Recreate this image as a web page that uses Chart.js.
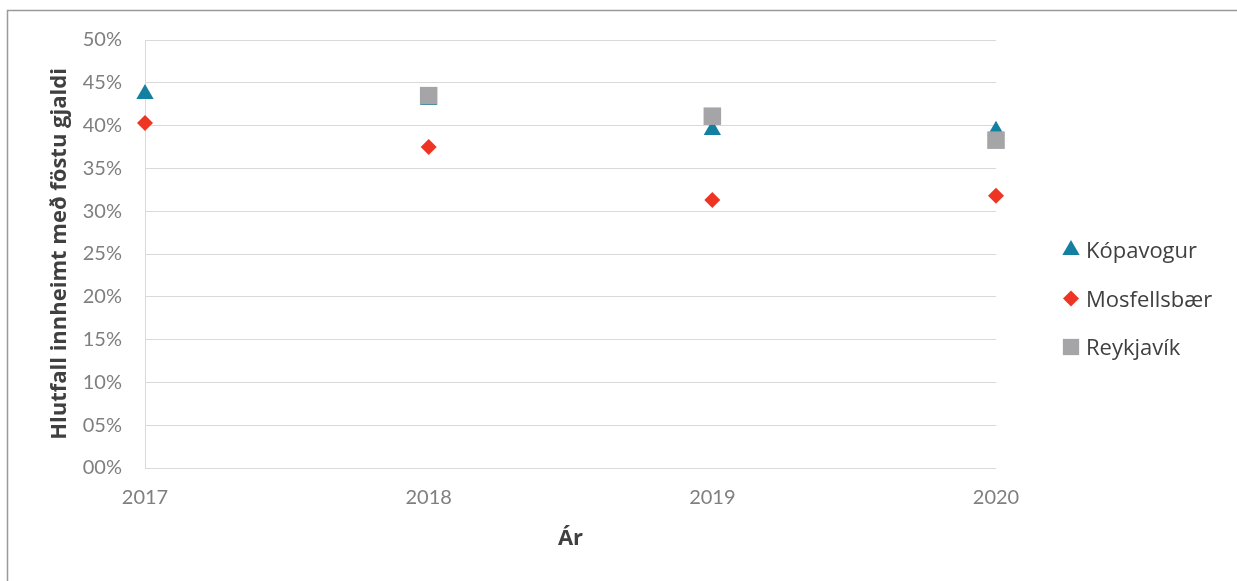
<!DOCTYPE html>
<html>
<head>
<meta charset="utf-8">
<script src="https://cdn.jsdelivr.net/npm/chart.js@4/dist/chart.umd.min.js"></script>
<style>
    html, body { margin: 0; padding: 0; background: #fff; overflow: hidden; }
    #wrap { position: relative; width: 1237px; height: 581px; }
</style>
</head>
<body>
<div id="wrap"><canvas id="chart" width="1237" height="581"></canvas></div>
<script>
// Years on the x axis
const years = [2017, 2018, 2019, 2020];

// Share collected with a fixed fee (fraction), per municipality
const kopavogur = [0.437, 0.430, 0.395, 0.394];
const mosfellsbaer = [0.403, 0.375, 0.313, 0.318];
const reykjavik = [null, 0.435, 0.411, 0.383];

const seriesNames = ['Kópavogur', 'Mosfellsbær', 'Reykjavík'];

const yTitle = 'Hlutfall innheimt með föstu gjaldi';
const xTitle = 'Ár';

const FONT = 'Lato';
const TITLE_FONT = 'Open Sans';

function toPoints(values) {
    return years.map((yr, i) => ({ x: yr, y: values[i] })).filter(p => p.y !== null);
}

// Outer frame around the whole chart
const framePlugin = {
    id: 'frame',
    beforeDraw(chart) {
        const ctx = chart.ctx;
        ctx.save();
        ctx.fillStyle = '#ffffff';
        ctx.fillRect(0, 0, chart.width, chart.height);
        ctx.strokeStyle = '#9a9a9a';
        ctx.lineWidth = 1.5;
        ctx.strokeRect(7.5, 10.5, chart.width + 20, chart.height + 20);
        ctx.restore();
    }
};

// Legend on the right, drawn from the datasets themselves
const sideLegend = {
    id: 'sideLegend',
    afterDraw(chart) {
        const ctx = chart.ctx;
        const x0 = 1071;
        const y0 = 250;
        const gap = 48.5;
        ctx.save();
        chart.data.datasets.forEach((ds, i) => {
            const y = y0 + i * gap;
            ctx.fillStyle = ds.backgroundColor;
            Chart.helpers.drawPoint(ctx, {
                pointStyle: ds.pointStyle,
                radius: ds.legendRadius,
                rotation: 0,
                borderWidth: 0
            }, x0, y);
            ctx.fillStyle = '#404040';
            ctx.font = '22px ' + TITLE_FONT;
            ctx.textBaseline = 'middle';
            ctx.textAlign = 'left';
            ctx.fillText(ds.label, 1086, y + 2);
        });
        ctx.restore();
    }
};

const ctx = document.getElementById('chart').getContext('2d');
const chart = new Chart(ctx, {
    type: 'scatter',
    data: {
        datasets: [
            {
                label: seriesNames[0],
                data: toPoints(kopavogur),
                backgroundColor: '#1380a1',
                pointStyle: 'triangle',
                pointRadius: 10,
                legendRadius: 10,
                pointBorderWidth: 0,
                order: 3,
                clip: false
            },
            {
                label: seriesNames[1],
                data: toPoints(mosfellsbaer),
                backgroundColor: '#ee3524',
                pointStyle: 'rectRot',
                pointRadius: 8,
                legendRadius: 8,
                pointBorderWidth: 0,
                order: 2,
                clip: false
            },
            {
                label: seriesNames[2],
                data: toPoints(reykjavik),
                backgroundColor: '#a5a5a7',
                pointStyle: 'rect',
                pointRadius: 12.4,
                legendRadius: 11.5,
                pointBorderWidth: 0,
                order: 1,
                clip: false
            }
        ]
    },
    options: {
        responsive: false,
        animation: false,
        devicePixelRatio: 1,
        layout: {
            padding: { left: 7, right: 241, top: 40, bottom: 0 }
        },
        plugins: {
            legend: { display: false },
            tooltip: { enabled: false }
        },
        scales: {
            x: {
                type: 'linear',
                min: years[0],
                max: years[years.length - 1],
                afterFit(scale) { scale.height = 113; },
                afterBuildTicks(scale) {
                    scale.ticks = years.map(v => ({ value: v }));
                },
                grid: { display: false, drawTicks: false },
                border: { display: false },
                ticks: {
                    padding: 18,
                    color: '#7f7f7f',
                    font: { family: FONT, size: 20 },
                    maxRotation: 0,
                    callback: v => String(v)
                },
                title: {
                    display: true,
                    text: xTitle,
                    color: '#404040',
                    font: { family: TITLE_FONT, size: 22, weight: 'bold' },
                    padding: { top: 0, bottom: 29 }
                }
            },
            y: {
                min: 0,
                max: 0.5,
                afterFit(scale) { scale.width = 138; },
                grid: { color: '#d9d9d9', lineWidth: 1, drawTicks: false },
                border: { display: true, color: '#d9d9d9', width: 1 },
                ticks: {
                    stepSize: 0.05,
                    padding: 23,
                    color: '#7f7f7f',
                    font: { family: FONT, size: 20 },
                    callback: v => String(Math.round(v * 100)).padStart(2, '0') + '%'
                },
                title: {
                    display: true,
                    text: yTitle,
                    color: '#404040',
                    font: { family: TITLE_FONT, size: 22, weight: 'bold' },
                    padding: { top: 40, bottom: 0 }
                }
            }
        }
    },
    plugins: [framePlugin, sideLegend]
});
</script>
</body>
</html>
